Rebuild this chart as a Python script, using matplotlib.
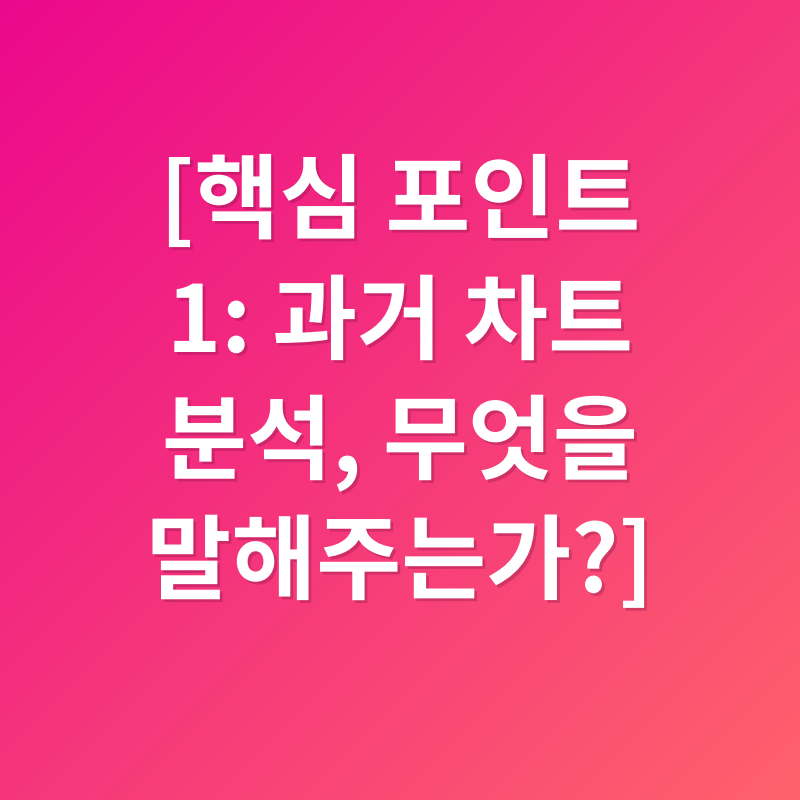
import numpy as np
import matplotlib.pyplot as plt
import matplotlib.patheffects as pe

plt.rcParams['font.family'] = ['Noto Sans CJK KR', 'DejaVu Sans']

# text lines and gradient colours
lines = ['[핵심 포인트', '1: 과거 차트', '분석, 무엇을', '말해주는가?]']
line_y = [0.711, 0.560, 0.410, 0.260]  # baselines, figure fraction
color_start = np.array([236, 8, 140]) / 255.0
color_end = np.array([255, 98, 108]) / 255.0

fig = plt.figure(figsize=(8, 8), dpi=100)
ax = fig.add_axes([0, 0, 1, 1])
ax.set_xlim(0, 1)
ax.set_ylim(0, 1)
ax.axis('off')

# diagonal gradient from top-left to bottom-right
n = 400
xx, yy = np.meshgrid(np.linspace(0, 1, n), np.linspace(1, 0, n))
t = (xx + (1 - yy)) / 2
img = color_start[None, None, :] * (1 - t[..., None]) + color_end[None, None, :] * t[..., None]
ax.imshow(img, extent=[0, 1, 0, 1], aspect='auto', origin='upper')

shadow = [pe.SimplePatchShadow(offset=(2, -2), shadow_rgbFace='#7a1040', alpha=0.3),
          pe.Normal()]
for txt, y in zip(lines, line_y):
    ax.text(0.5, y, txt, color='white', fontsize=66.5, fontweight='bold',
            ha='center', va='baseline', path_effects=shadow)

plt.savefig('out.png', dpi=100)
